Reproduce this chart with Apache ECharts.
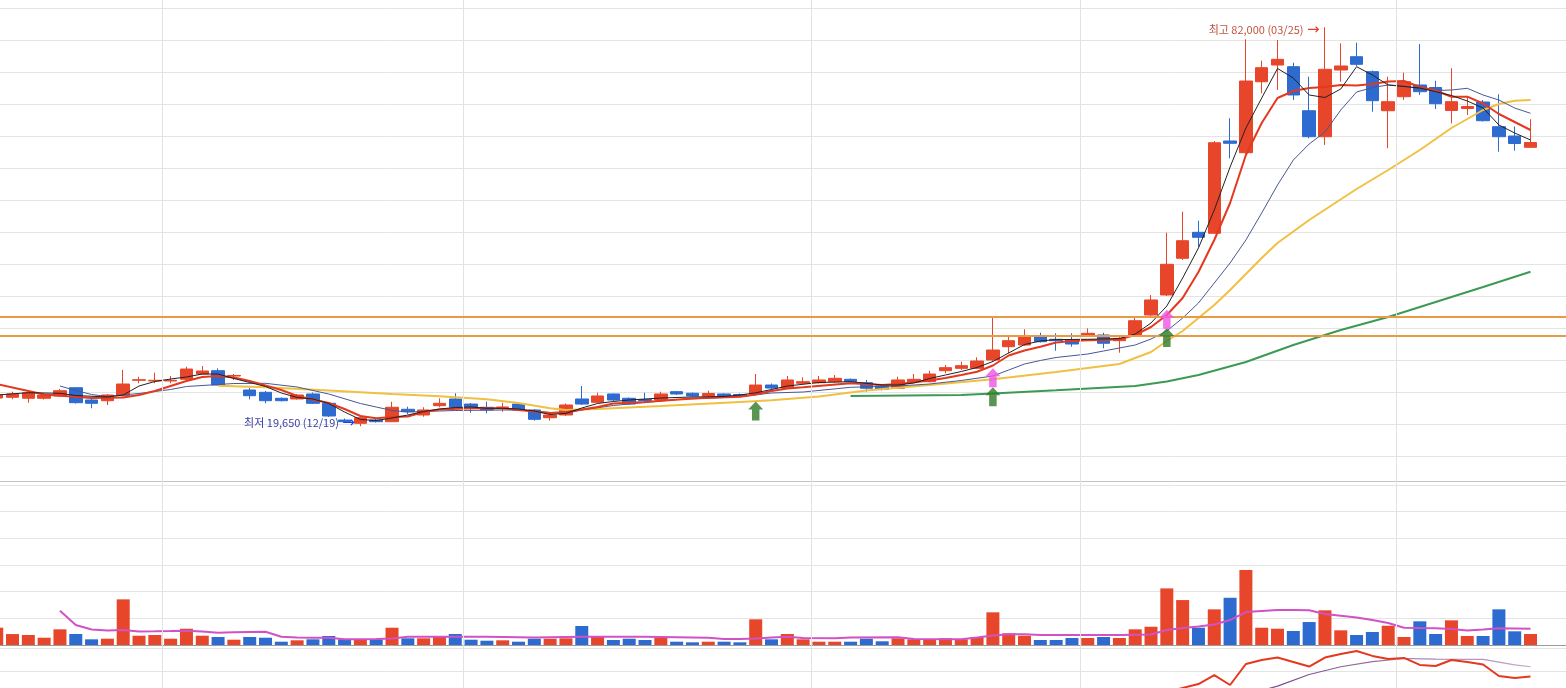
<!DOCTYPE html>
<html>
<head>
<meta charset="utf-8">
<script src="https://cdn.jsdelivr.net/npm/echarts@6/dist/echarts.min.js"></script>
<style>
html,body{margin:0;padding:0;background:#fff;overflow:hidden;}
#chart{width:1566px;height:688px;}
</style>
</head>
<body>
<div id="chart"></div>
<script>
// ---------- data ----------
const dates = ['11/15','11/18','11/19','11/20','11/21','11/22','11/25','11/26','11/27','11/28','11/29',
 '12/02','12/03','12/04','12/05','12/06','12/09','12/10','12/11','12/12','12/13','12/16','12/17','12/19','12/20','12/23','12/24','12/26','12/27','12/30',
 '01/02','01/03','01/06','01/07','01/08','01/09','01/10','01/13','01/14','01/15','01/16','01/17','01/20','01/21','01/22','01/23','01/24','01/27','01/28','01/29','01/30','01/31',
 '02/03','02/04','02/05','02/06','02/07','02/10','02/11','02/12','02/13','02/14','02/17','02/18','02/19','02/20','02/21','02/24','02/25',
 '03/04','03/05','03/06','03/09','03/10','03/11','03/12','03/13','03/16','03/17','03/18','03/19','03/20','03/23','03/24','03/25','03/26','03/27','03/30','03/31',
 '04/01','04/02','04/03','04/06','04/07','04/08','04/09','04/10','04/13'];
// empty trading days reserved to the right of the last candle
const futureDates = ['04/14','04/15'];

const opens = [24060,24170,24020,24020,24380,25670,23750,23640,24420,26830,
 26720,26720,26980,27810,28330,27500,25310,24950,24020,23910,
 24690,23230,20620,20110,20620,20360,22300,21410,22860,23910,
 23120,22610,22560,23120,22190,20980,21410,23910,23390,24690,
 24020,23830,23750,25050,24800,24380,24690,24610,24690,26090,
 25580,26360,26450,26610,26980,26450,25940,25580,26610,26610,
 28330,28700,28700,30000,32080,32340,33640,33230,33120,33910,
 33910,33020,33910,37030,40160,45890,49950,49800,64220,62390,
 73480,76090,75830,68950,64890,75310,77390,75050,68950,71140,
 72970,72580,68980,69300,70310,66450,65000,63230];
const closes = [24530,24690,24890,24530,25200,23330,23230,24530,26250,26920,
 26830,26830,28590,28280,26090,27580,24420,23640,23640,24530,
 23230,21250,20360,20980,20360,22610,21920,22190,23230,22610,
 22610,22190,22660,22190,20730,21410,22970,23120,24380,23750,
 23120,23670,24690,24690,24380,24770,24380,24450,26090,25620,
 26880,26610,26880,27140,26610,25580,25420,26880,26980,27810,
 28800,29110,29840,31560,33020,33750,32860,33020,32500,34170,
 32610,33390,36140,39380,44950,48640,49170,63950,63860,73590,
 75670,76980,71410,64890,75420,75940,76200,70520,70360,73480,
 71920,70050,70360,69610,67390,64890,63830,63980];
const lows = [23750,23860,23330,23830,24220,23200,22450,22970,24300,26360,
 26360,26360,26870,27730,26020,26880,23860,23230,23520,23830,
 23120,21090,20160,19650,20230,20310,21560,21140,22610,22500,
 21770,21670,21920,22030,20520,20520,21250,22970,23280,23590,
 22970,23230,23590,24530,24220,24300,24220,24300,24610,25390,
 25470,26250,26330,26480,26480,25050,25230,25470,26480,26480,
 27920,28440,28590,29690,31050,32190,32730,31450,32080,33750,
 31830,31140,33750,36880,40000,45620,47700,49690,61520,62270,
 71670,72190,70630,64640,63590,73480,75940,68800,63080,70630,
 71410,69220,66980,68280,67270,62550,62700,63130];
const highs = [24840,25050,25160,24770,25470,25780,23910,24690,28440,27390,
 28020,27500,28950,29060,28700,27810,25620,25160,24140,24690,
 24920,23360,20860,21250,20780,23480,22700,22610,24010,24800,
 23280,23480,23330,23280,22340,21670,23200,25940,24890,24770,
 24140,24890,25050,25160,24920,25200,24800,24770,27810,26330,
 27500,27300,27500,27660,27110,26880,26090,27390,27810,28330,
 29220,29730,30420,36670,33750,34800,34270,34170,34170,34950,
 34270,33910,36670,40160,49890,53170,51770,64220,67770,80110,
 76770,80000,76450,74270,82000,79480,79580,75230,74270,74890,
 79380,73640,75580,71140,70630,71520,66480,67610];

const volumes = [650000,410000,375000,273000,588000,412000,213000,236000,1712000,348000,
 375000,236000,610000,348000,300000,198000,300000,273000,124000,176000,
 213000,337000,213000,225000,213000,648000,251000,251000,311000,412000,
 198000,161000,176000,124000,236000,236000,251000,712000,311000,187000,
 236000,187000,273000,124000,101000,124000,124000,101000,963000,213000,
 412000,213000,124000,124000,124000,236000,139000,251000,213000,198000,
 251000,213000,300000,1225000,438000,348000,187000,187000,262000,262000,
 300000,262000,588000,685000,2123000,1685000,648000,1337000,1771000,2809000,
 648000,610000,524000,861000,1300000,551000,375000,487000,723000,300000,
 888000,412000,925000,337000,337000,1337000,513000,412000];

// moving-average lines: [category index, value]
const ma5 = [[0,24531],[2,24891],[4,24797],[5,24453],[7,24219],[8,24531],[9,25937],[10,26641],[11,27031],[12,27344],[13,27812],[14,27812],[15,27109],[16,26484],[17,25859],[18,24844],[19,24141],[20,23906],[21,23203],[22,21875],[23,20703],[24,20547],[25,20937],[26,21406],[27,21953],[28,22344],[29,22578],[30,22656],[31,22453],[32,22453],[33,22344],[34,22031],[35,21484],[36,21672],[37,22500],[38,23203],[39,23516],[40,23750],[42,24062],[44,24219],[46,24297],[47,24531],[48,24875],[49,25391],[50,25937],[52,26484],[54,26609],[56,26094],[57,26094],[58,26406],[59,27109],[60,27656],[61,28203],[62,28828],[63,29766],[64,31094],[65,32422],[66,32969],[67,33187],[69,33234],[71,33344],[72,34062],[73,35781],[74,38437],[75,42812],[76,47500],[77,53437],[78,60156],[79,66250],[80,70937],[81,75547],[82,74062],[83,71406],[84,71016],[85,72344],[86,75828],[87,74531],[88,72969],[89,72734],[90,72500],[91,71922],[92,71328],[93,70469],[94,69375],[95,66719],[96,65469],[97,64375]];
const ma10 = [[0,26250],[2,25156],[3,24609],[6,24062],[8,24141],[9,24531],[10,25156],[11,25937],[12,26719],[13,27344],[14,27500],[15,27266],[16,26719],[18,25312],[19,24375],[21,23281],[22,22344],[23,21250],[24,20891],[25,21094],[26,21172],[27,21875],[28,22266],[30,22453],[32,22453],[33,22187],[34,21953],[35,21719],[36,21875],[37,22266],[38,22656],[39,23203],[41,23437],[44,23984],[47,24266],[48,24609],[49,25156],[50,25547],[51,25734],[54,26359],[56,26094],[57,26250],[59,26797],[60,27187],[61,27656],[62,28172],[63,29141],[64,30703],[65,31484],[66,32078],[67,32734],[68,32969],[69,33078],[70,33125],[71,33234],[72,33906],[73,35156],[74,37031],[75,39687],[76,43750],[77,48750],[78,54531],[79,62031],[80,67031],[81,70937],[82,72031],[83,72500],[84,72656],[85,72969],[86,72891],[87,73125],[88,73516],[89,73594],[90,72656],[91,72109],[92,71141],[93,71141],[94,70078],[95,68437],[96,67187],[97,65937]];
const ma20 = [[4,25937],[5,25234],[6,24609],[7,24297],[9,24766],[11,25391],[12,25859],[14,26172],[15,26328],[17,26359],[19,25781],[21,24687],[23,23203],[24,22656],[25,22109],[26,21875],[29,22109],[32,22187],[33,22187],[35,21797],[36,21672],[37,22187],[39,22891],[43,23828],[47,24266],[49,24844],[51,25000],[54,25734],[57,25937],[59,26250],[61,26797],[63,27500],[64,28437],[65,29375],[66,29922],[67,30391],[69,30937],[70,31406],[71,31875],[72,32344],[73,33281],[74,34531],[75,36562],[76,38906],[77,42031],[78,45156],[79,48750],[80,52969],[81,57344],[82,61250],[83,63750],[84,65625],[85,69062],[86,71875],[87,72578],[88,72969],[89,72812],[90,72344],[91,72109],[92,72187],[93,72453],[94,71406],[95,70625],[96,69375],[97,68547]];
const ma60 = [[14,25984],[17,25734],[21,25234],[25,24687],[28,24328],[31,23859],[33,23281],[35,22453],[36,22187],[38,22344],[42,22812],[47,23437],[49,23703],[52,24297],[55,25234],[59,26094],[63,26984],[67,28125],[71,29375],[73,31250],[74,32969],[75,34531],[77,38594],[78,40937],[79,43437],[80,45937],[81,48281],[83,51875],[86,56719],[88,59687],[90,62812],[92,66250],[94,69062],[95,70000],[96,70516],[97,70625]];
const ma120 = [[54,24375],[61,24531],[63,24766],[67,25265],[72,25937],[74,26640],[76,27656],[79,29687],[82,32344],[85,34687],[88,36719],[91,39062],[94,41406],[97,43797]];
const volMa = [[4,1285000],[5,749000],[6,580000],[7,543000],[8,562000],[9,506000],[10,513000],[11,524000],[12,536000],[13,506000],[14,461000],[15,476000],[16,487000],[17,498000],[18,311000],[19,281000],[20,273000],[21,273000],[22,213000],[23,213000],[24,225000],[25,243000],[26,311000],[27,311000],[31,311000],[34,281000],[37,311000],[41,307000],[45,273000],[46,225000],[47,225000],[48,243000],[49,281000],[50,311000],[51,262000],[53,251000],[54,281000],[57,288000],[58,225000],[61,213000],[62,281000],[63,356000],[64,401000],[65,401000],[66,375000],[71,375000],[73,393000],[74,562000],[75,637000],[76,693000],[77,768000],[78,936000],[79,1236000],[80,1273000],[81,1311000],[82,1311000],[83,1300000],[84,1161000],[85,1097000],[86,1030000],[87,936000],[88,824000],[89,648000],[90,637000],[91,629000],[92,599000],[93,543000],[94,580000],[95,625000],[96,618000],[97,610000]];
const oscFast = [[74,76.1],[75,78.3],[76,80.4],[77,85.3],[78,79.9],[79,91.3],[80,93.5],[81,94.8],[82,92.4],[83,89.9],[84,94.8],[85,96.7],[86,98.4],[87,95.7],[88,94],[89,94.6],[90,90.8],[91,90.2],[92,93.5],[93,92.4],[94,91],[95,84.8],[96,83.7],[97,84.5]];
const oscSlow = [[79,74.5],[81,79.3],[83,85.6],[85,89.8],[87,92.6],[89,94.3],[91,94],[94,93.8],[96,90.8],[97,89.8]];

const levelLines = [36770, 33830];
const greenSignals = [[48,22030],[63,24270],[74,33520]];
const pinkSignals = [[63,27220],[74,36380]];
const highNote = {idx: 84, value: 82000, text: '최고 82,000 (03/25)'};
const lowNote = {idx: 23, value: 19650, text: '최저 19,650 (12/19)'};

// ---------- chart ----------
const UP = '#E8462B', DOWN = '#2D6BD0';
const BAND = 15.8125, L = -11.2;
const axisDates = dates.concat(futureDates);
const N = axisDates.length, W = BAND * N;
const chart = echarts.init(document.getElementById('chart'));
const candles = dates.map((d, i) => [opens[i], closes[i], lows[i], highs[i]]);
// month boundaries (a new month begins at these category indexes)
const monthStarts = dates.map((d, i) => i).filter(i => i > 0 && dates[i].slice(0,2) !== dates[i-1].slice(0,2));
const catAxis = (gi) => ({type: 'category', gridIndex: gi, data: axisDates, boundaryGap: true, show: false});
const bgX = (gi, extra) => Object.assign({type: 'value', gridIndex: gi, min: 0, max: 1, show: false}, extra || {});
const bgY = (gi, min, max, interval) => ({type: 'value', gridIndex: gi, min, max, interval,
  axisLine: {show: false}, axisTick: {show: false}, axisLabel: {show: false},
  splitLine: {show: true, lineStyle: {color: '#e4e4e4', width: 1}}});
const noteLabel = (txt, textColor, arrowColor, dy) => ({
  show: true, position: 'left', distance: 5, offset: [0, dy],
  formatter: '{t|' + txt + '} {a|→}',
  rich: {
    t: {color: textColor, fontSize: 11, fontFamily: 'Noto Sans CJK KR'},
    a: {color: arrowColor, fontSize: 15, fontFamily: 'DejaVu Sans'}
  }
});

const option = {
  animation: false,
  backgroundColor: '#ffffff',
  grid: [
    {left: L, width: W, top: 8, height: 448, outerBoundsMode: 'none'},
    {left: L, width: W, top: 485, height: 160, outerBoundsMode: 'none'},
    {left: L, width: W, top: 648, height: 184, outerBoundsMode: 'none'},
    {left: 0, right: 0, top: 8, height: 448, outerBoundsMode: 'none'},
    {left: 0, right: 0, top: 485, height: 160, outerBoundsMode: 'none'},
    {left: 0, right: 0, top: 648, height: 184, outerBoundsMode: 'none'},
    {left: L, width: W, top: 0, height: 688, outerBoundsMode: 'none'}
  ],
  xAxis: [
    catAxis(0), catAxis(1), catAxis(2),
    bgX(3, {show: true, offset: 25, axisLine: {show: true, lineStyle: {color: '#c4c4c4', width: 1}}, axisTick: {show: false}, axisLabel: {show: false}, splitLine: {show: false}}),
    bgX(4, {show: true, axisLine: {show: true, lineStyle: {color: '#9c9c9c', width: 1}}, axisTick: {show: false}, axisLabel: {show: false}, splitLine: {show: false}}),
    bgX(5),
    {type: 'value', gridIndex: 6, min: -0.5, max: N - 0.5, show: false}
  ],
  yAxis: [
    {type: 'value', gridIndex: 0, min: 15000, max: 85000, show: false},
    {type: 'value', gridIndex: 1, min: 0, max: 6000000, show: false},
    {type: 'value', gridIndex: 2, min: 0, max: 100, show: false},
    bgY(3, 15000, 85000, 5000),
    bgY(4, 0, 6000000, 1000000),
    bgY(5, 0, 100, 12.5),
    {type: 'value', gridIndex: 6, min: 0, max: 1, show: false}
  ],
  series: [
    {type: 'line', xAxisIndex: 6, yAxisIndex: 6, data: [], silent: true, z: 0,
     markLine: {silent: true, symbol: 'none', label: {show: false},
       lineStyle: {color: '#e2e2e2', width: 1, type: 'solid'},
       data: monthStarts.map(i => ({xAxis: i - 0.5}))}},
    {type: 'line', xAxisIndex: 3, yAxisIndex: 3, data: [], silent: true, z: 1,
     markLine: {silent: true, symbol: 'none', label: {show: false},
       lineStyle: {color: '#E99A45', width: 2, type: 'solid'},
       data: levelLines.map(v => ({yAxis: v}))}},
    {type: 'candlestick', xAxisIndex: 0, yAxisIndex: 0, data: candles, barWidth: 13, z: 3,
     itemStyle: {color: UP, color0: DOWN, borderColor: UP, borderColor0: DOWN, borderWidth: 1},
     markPoint: {symbol: 'rect', symbolSize: 1, itemStyle: {color: 'rgba(0,0,0,0)'}, silent: true,
       data: [
         {coord: [dates[highNote.idx], highNote.value], label: noteLabel(highNote.text, '#C2523E', '#E0402A', 3)},
         {coord: [dates[lowNote.idx], lowNote.value], label: noteLabel(lowNote.text, '#3A3CA6', '#1E40E0', -3)}
       ]}},
    {type: 'line', xAxisIndex: 0, yAxisIndex: 0, data: ma120, showSymbol: false, z: 4,
     lineStyle: {color: '#3C9A52', width: 2}},
    {type: 'line', xAxisIndex: 0, yAxisIndex: 0, data: ma60, showSymbol: false, z: 4,
     lineStyle: {color: '#EFC042', width: 2}},
    {type: 'line', xAxisIndex: 0, yAxisIndex: 0, data: ma20, showSymbol: false, z: 4,
     lineStyle: {color: '#4A5794', width: 1}},
    {type: 'line', xAxisIndex: 0, yAxisIndex: 0, data: ma10, showSymbol: false, z: 4,
     lineStyle: {color: '#E4391F', width: 2}},
    {type: 'line', xAxisIndex: 0, yAxisIndex: 0, data: ma5, showSymbol: false, z: 4,
     lineStyle: {color: '#222222', width: 1}},
    {type: 'scatter', xAxisIndex: 0, yAxisIndex: 0, data: greenSignals, z: 5,
     symbol: 'path://M7,0 L14,8 L10.5,8 L10.5,19 L3.5,19 L3.5,8 L0,8 Z', symbolSize: [15, 19],
     itemStyle: {color: '#2E7A28'}},
    {type: 'scatter', xAxisIndex: 0, yAxisIndex: 0, data: pinkSignals, z: 5,
     symbol: 'path://M7,0 L14,8 L10.5,8 L10.5,19 L3.5,19 L3.5,8 L0,8 Z', symbolSize: [15, 19],
     itemStyle: {color: '#F052E6'}},
    {type: 'bar', xAxisIndex: 1, yAxisIndex: 1, barWidth: 13, z: 3,
     data: volumes.map((v, i) => ({value: v, itemStyle: {color: closes[i] >= opens[i] ? UP : DOWN}}))},
    {type: 'line', xAxisIndex: 1, yAxisIndex: 1, data: volMa, showSymbol: false, z: 4,
     lineStyle: {color: '#D152C4', width: 2}},
    {type: 'line', xAxisIndex: 2, yAxisIndex: 2, data: oscSlow, showSymbol: false, z: 4,
     lineStyle: {width: 1.2, color: new echarts.graphic.LinearGradient(0, 0, 1, 0, [
       {offset: 0, color: '#6E3F86'}, {offset: 1, color: '#C9A6C4'}])}},
    {type: 'line', xAxisIndex: 2, yAxisIndex: 2, data: oscFast, showSymbol: false, z: 5,
     lineStyle: {color: '#E4391F', width: 2}}
  ]
};
chart.setOption(option);
</script>
</body>
</html>
